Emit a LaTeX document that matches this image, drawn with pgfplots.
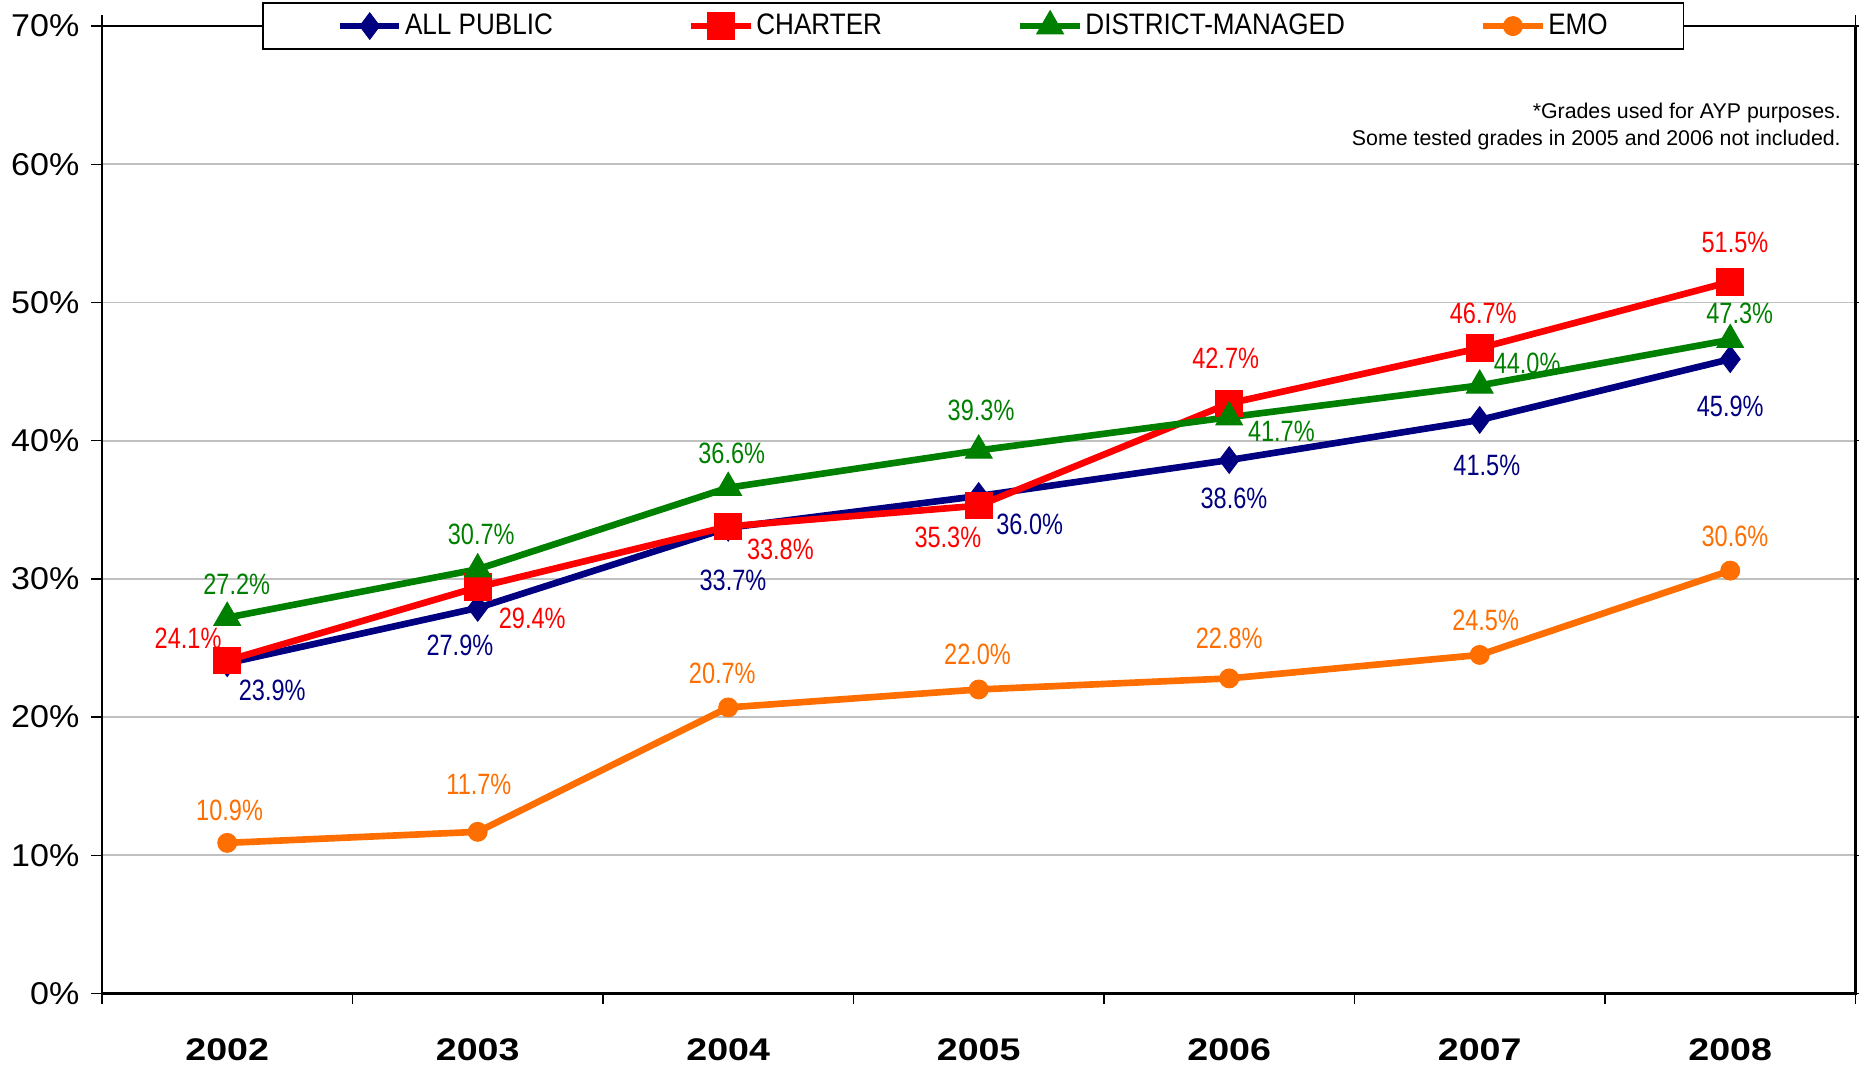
\documentclass[border=0pt]{standalone}
\usepackage{pgfplots}
\pgfplotsset{compat=1.18}
\usepackage{fontspec}
\setmainfont{Liberation Sans}
\newfontfamily\narrowf[FakeStretch=0.8]{Liberation Sans}
\newfontfamily\legf[FakeStretch=0.88]{Liberation Sans}
\newfontfamily\yearf[FakeStretch=1.2]{Liberation Sans}
\newfontfamily\tickf[FakeStretch=1.08]{Liberation Sans}
\definecolor{cnavy}{RGB}{0,0,128}
\definecolor{cred}{RGB}{255,0,0}
\definecolor{cgreen}{RGB}{0,128,0}
\definecolor{corange}{RGB}{255,110,0}
\definecolor{gridgray}{RGB}{192,192,192}
\newcommand\dlfont{\narrowf\fontsize{12.4}{14}\selectfont}
\newcommand\dl[5]{\node[text=#1, font=\dlfont, inner sep=0pt] at ([shift={(#4pt,#5pt)}]axis cs:#2) {#3};}
\begin{document}
\begin{tikzpicture}
\useasboundingbox (-43pt,-31.5pt) rectangle (741pt,419pt);
\begin{axis}[
  scale only axis, width=739.5pt, height=408pt,
  xmin=-0.5, xmax=6.5, ymin=0, ymax=70,
  xtick={-0.5,0.5,...,6.5}, xticklabels={},
  extra x ticks={0,1,2,3,4,5,6},
  extra x tick labels={2002,2003,2004,2005,2006,2007,2008},
  extra x tick style={major tick length=0pt, grid=none,
    xticklabel style={font=\yearf\bfseries\fontsize{13.2}{15}\selectfont, anchor=north, yshift=-15.5pt}},
  ytick={0,10,...,70},
  yticklabel={\pgfmathprintnumber{\tick}\%},
  /pgf/number format/assume math mode=true,
  yticklabel style={font=\tickf\fontsize{13.3}{15}\selectfont, xshift=-1.5pt},
  ymajorgrids, grid style={color=gridgray, line width=0.8pt},
  axis line style={line width=1pt},
  tick align=outside, major tick length=4.5pt,
  tick style={black, line width=0.6pt},
  legend style={at={(0.497,1)}, anchor=center, legend columns=4, draw=black, line width=0.7pt,
    fill=white, font=\legf\fontsize{12.5}{14}\selectfont, inner xsep=31pt, inner ysep=2.5pt,
    nodes={inner xsep=1pt},
    /tikz/every even column/.append style={column sep=56pt}},
  legend image code/.code={\draw[mark repeat=2,mark phase=2] plot coordinates {(0pt,0pt) (12.5pt,0pt) (25pt,0pt)};},
  clip=false,
]
\addplot[color=cnavy, line width=2.8pt, mark=diamond*, mark size=5.6pt, mark options={solid, line width=0.4pt}]
  coordinates {(0,23.9)(1,27.9)(2,33.7)(3,36.0)(4,38.6)(5,41.5)(6,45.9)};
\addlegendentry{ALL PUBLIC}
\addplot[color=cred, line width=2.8pt, mark=square*, mark size=5.6pt, mark options={solid, line width=0.4pt}]
  coordinates {(0,24.1)(1,29.4)(2,33.8)(3,35.3)(4,42.7)(5,46.7)(6,51.5)};
\addlegendentry{CHARTER}
\addplot[color=cgreen, line width=2.8pt, mark=triangle*, mark size=6.5pt, mark options={solid, line width=0.4pt}]
  coordinates {(0,27.2)(1,30.7)(2,36.6)(3,39.3)(4,41.7)(5,44.0)(6,47.3)};
\addlegendentry{DISTRICT-MANAGED}
\addplot[color=corange, line width=2.8pt, mark=*, mark size=4pt, mark options={solid, line width=0.4pt}]
  coordinates {(0,10.9)(1,11.7)(2,20.7)(3,22.0)(4,22.8)(5,24.5)(6,30.6)};
\addlegendentry{EMO}

\dl{cnavy}{0,23.9}{23.9\%}{19}{-11.5}
\dl{cnavy}{1,27.9}{27.9\%}{-7.5}{-16}
\dl{cnavy}{2,33.7}{33.7\%}{2}{-22}
\dl{cnavy}{3,36.0}{36.0\%}{21.5}{-12}
\dl{cnavy}{4,38.6}{38.6\%}{2}{-16}
\dl{cnavy}{5,41.5}{41.5\%}{3}{-19}
\dl{cnavy}{6,45.9}{45.9\%}{0}{-20}

\dl{cred}{0,24.1}{24.1\%}{-16.5}{9.5}
\dl{cred}{1,29.4}{29.4\%}{23}{-13}
\dl{cred}{2,33.8}{33.8\%}{22}{-9.5}
\dl{cred}{3,35.3}{35.3\%}{-13}{-13.5}
\dl{cred}{4,42.7}{42.7\%}{-1.5}{19}
\dl{cred}{5,46.7}{46.7\%}{1.5}{14.5}
\dl{cred}{6,51.5}{51.5\%}{2}{16.5}

\dl{cgreen}{0,27.2}{27.2\%}{4}{14}
\dl{cgreen}{1,30.7}{30.7\%}{1.5}{14.5}
\dl{cgreen}{2,36.6}{36.6\%}{1.5}{14.5}
\dl{cgreen}{3,39.3}{39.3\%}{1}{17}
\dl{cgreen}{4,41.7}{41.7\%}{22}{-6}
\dl{cgreen}{5,44.0}{44.0\%}{20}{9.5}
\dl{cgreen}{6,47.3}{47.3\%}{4}{11}

\dl{corange}{0,10.9}{10.9\%}{1}{13.5}
\dl{corange}{1,11.7}{11.7\%}{0.5}{20}
\dl{corange}{2,20.7}{20.7\%}{-2.5}{14.5}
\dl{corange}{3,22.0}{22.0\%}{-0.5}{15}
\dl{corange}{4,22.8}{22.8\%}{0}{17}
\dl{corange}{5,24.5}{24.5\%}{2.5}{14.5}
\dl{corange}{6,30.6}{30.6\%}{2}{14.5}

\node[anchor=east, align=right, font=\fontsize{9}{11.5}\selectfont, inner sep=0pt]
  at (axis description cs:0.9919,0.8964) {*Grades used for AYP purposes.\\Some tested grades in 2005 and 2006 not included.};
\end{axis}
\end{tikzpicture}
\end{document}
